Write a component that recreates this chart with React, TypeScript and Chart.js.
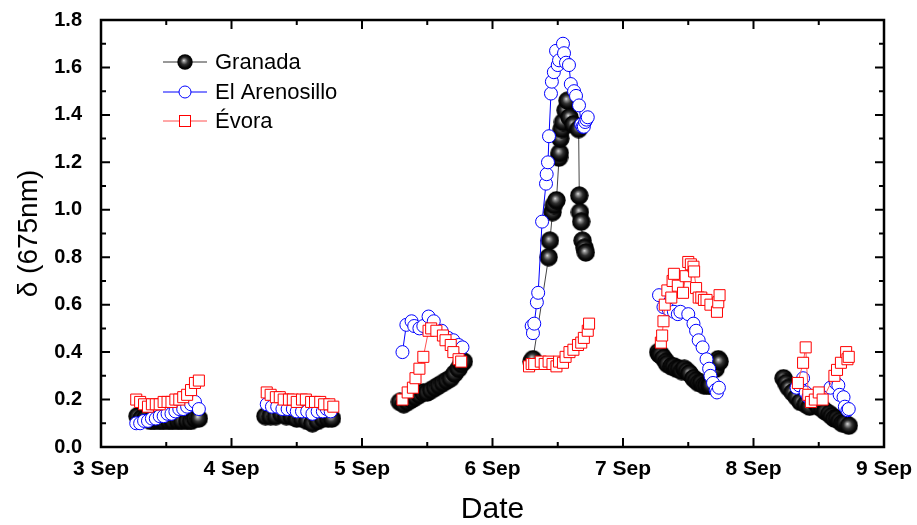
import React, { useEffect, useRef } from 'react';
import { Chart, registerables } from 'chart.js';

Chart.register(...registerables);

// ---------- tick definitions ----------
const xMajorDays = [3, 4, 5, 6, 7, 8, 9];
const xMinorDays = [3.5, 4.5, 5.5, 6.5, 7.5, 8.5];
const yMajorTicks = [0, 0.2, 0.4, 0.6, 0.8, 1.0, 1.2, 1.4, 1.6, 1.8];
const yMinorTicks = [0.1, 0.3, 0.5, 0.7, 0.9, 1.1, 1.3, 1.5, 1.7];

const seriesNames = ['Granada', 'El Arenosillo', 'Évora'];

// ---------- Granada ----------
const granadaTime = [
  3.28, 3.31, 3.34, 3.38, 3.41, 3.45, 3.48, 3.52, 3.55, 3.59, 3.62, 3.66, 3.69, 3.72, 3.75,
  4.26, 4.30, 4.34, 4.38, 4.42, 4.46, 4.50, 4.54, 4.58, 4.62, 4.66, 4.70, 4.74, 4.77,
  5.29, 5.32, 5.35, 5.38, 5.41, 5.44, 5.47, 5.50, 5.53, 5.56, 5.59, 5.62, 5.65, 5.68, 5.71, 5.74, 5.76, 5.78,
  6.30, 6.31, 6.43, 6.44, 6.46, 6.47, 6.49, 6.51, 6.515, 6.52, 6.53, 6.54, 6.56, 6.575, 6.59, 6.62, 6.66, 6.665, 6.67, 6.68, 6.69, 6.705, 6.715,
  7.27, 7.28, 7.29, 7.31, 7.33, 7.34, 7.37, 7.39, 7.41, 7.43, 7.45, 7.47, 7.49, 7.51, 7.54, 7.56, 7.58, 7.60, 7.62, 7.64, 7.66, 7.67, 7.71, 7.73, 7.74,
  8.23, 8.25, 8.27, 8.30, 8.33, 8.36, 8.40, 8.43, 8.47, 8.50, 8.53, 8.55, 8.58, 8.60, 8.62, 8.64, 8.66, 8.68, 8.70, 8.73,
];
const granadaValue = [
  0.13, 0.12, 0.12, 0.11, 0.11, 0.11, 0.11, 0.11, 0.11, 0.11, 0.11, 0.11, 0.11, 0.12, 0.12,
  0.13, 0.13, 0.13, 0.14, 0.13, 0.13, 0.12, 0.12, 0.11, 0.10, 0.11, 0.12, 0.12, 0.12,
  0.19, 0.18, 0.19, 0.20, 0.21, 0.22, 0.23, 0.23, 0.24, 0.25, 0.26, 0.27, 0.28, 0.29, 0.31, 0.33, 0.35, 0.36,
  0.36, 0.37, 0.80, 0.87, 0.99, 1.02, 1.04, 1.22, 1.24, 1.30, 1.34, 1.37, 1.42, 1.46, 1.39, 1.36, 1.34, 1.06, 0.99, 0.95, 0.87, 0.84, 0.82,
  0.40, 0.39, 0.39, 0.375, 0.36, 0.35, 0.34, 0.34, 0.33, 0.33, 0.32, 0.33, 0.32, 0.31, 0.29, 0.28, 0.27, 0.27, 0.26, 0.26, 0.26, 0.26, 0.33, 0.37, 0.36,
  0.29, 0.27, 0.25, 0.23, 0.21, 0.19, 0.18, 0.17, 0.19, 0.17, 0.16, 0.15, 0.14, 0.13, 0.12, 0.12, 0.11, 0.10, 0.10, 0.09,
];

// ---------- El Arenosillo ----------
const arenosilloTime = [
  3.27, 3.30, 3.33, 3.36, 3.39, 3.42, 3.45, 3.48, 3.51, 3.54, 3.57, 3.60, 3.63, 3.66, 3.69, 3.72, 3.75,
  4.27, 4.31, 4.35, 4.39, 4.43, 4.47, 4.50, 4.54, 4.58, 4.62, 4.66, 4.70, 4.73, 4.76,
  5.31, 5.34, 5.38, 5.40, 5.44, 5.47, 5.51, 5.55, 5.61, 5.66, 5.70, 5.74, 5.77,
  6.30, 6.31, 6.32, 6.34, 6.35, 6.38, 6.41, 6.415, 6.425, 6.433, 6.448, 6.455, 6.47, 6.487, 6.50, 6.51, 6.54, 6.548, 6.563, 6.586, 6.60, 6.625, 6.64, 6.663, 6.68, 6.69, 6.70, 6.71, 6.72, 6.73,
  7.276, 7.31, 7.35, 7.39, 7.42, 7.44, 7.50, 7.54, 7.56, 7.58, 7.61, 7.64, 7.66, 7.67, 7.69, 7.71, 7.72, 7.735,
  8.33, 8.35, 8.38, 8.40, 8.42, 8.44, 8.59, 8.63, 8.65, 8.66, 8.69, 8.70, 8.72, 8.73,
];
const arenosilloValue = [
  0.10, 0.10, 0.11, 0.11, 0.12, 0.12, 0.13, 0.13, 0.14, 0.14, 0.15, 0.16, 0.16, 0.17, 0.18, 0.19, 0.16,
  0.18, 0.17, 0.17, 0.16, 0.16, 0.16, 0.15, 0.15, 0.15, 0.14, 0.15, 0.15, 0.16, 0.15,
  0.40, 0.515, 0.53, 0.51, 0.50, 0.51, 0.55, 0.53, 0.49, 0.46, 0.45, 0.43, 0.42,
  0.51, 0.48, 0.52, 0.61, 0.65, 0.95, 1.11, 1.15, 1.20, 1.31, 1.49, 1.54, 1.58, 1.67, 1.61, 1.63, 1.70, 1.66, 1.62, 1.61, 1.53, 1.50, 1.48, 1.44, 1.36, 1.35, 1.35, 1.37, 1.38, 1.39,
  0.64, 0.59, 0.58, 0.57, 0.56, 0.57, 0.56, 0.52, 0.49, 0.45, 0.42, 0.37, 0.33, 0.30, 0.27, 0.24, 0.23, 0.25,
  0.25, 0.26, 0.29, 0.23, 0.21, 0.20, 0.25, 0.27, 0.26, 0.22, 0.21, 0.17, 0.155, 0.16,
];

// ---------- Évora ----------
const evoraTime = [
  3.27, 3.30, 3.33, 3.36, 3.39, 3.42, 3.45, 3.48, 3.51, 3.54, 3.57, 3.60, 3.63, 3.66, 3.69, 3.72, 3.75,
  4.27, 4.30, 4.34, 4.37, 4.40, 4.44, 4.47, 4.50, 4.54, 4.57, 4.61, 4.64, 4.68, 4.71, 4.75, 4.78,
  5.31, 5.35, 5.39, 5.41, 5.44, 5.47, 5.51, 5.53, 5.57, 5.62, 5.64, 5.68, 5.70, 5.74, 5.76,
  6.28, 6.30, 6.32, 6.37, 6.40, 6.43, 6.46, 6.49, 6.51, 6.54, 6.56, 6.59, 6.62, 6.655, 6.68, 6.70, 6.73, 6.74,
  7.29, 7.30, 7.31, 7.32, 7.34, 7.37, 7.38, 7.39, 7.42, 7.46, 7.48, 7.50, 7.52, 7.54, 7.545, 7.56, 7.58, 7.60, 7.62, 7.64, 7.67, 7.72, 7.73, 7.74,
  8.34, 8.38, 8.40, 8.42, 8.44, 8.47, 8.50, 8.53, 8.62, 8.64, 8.67, 8.71, 8.72, 8.73,
];
const evoraValue = [
  0.20, 0.19, 0.18, 0.17, 0.18, 0.18, 0.18, 0.19, 0.19, 0.19, 0.20, 0.20, 0.21, 0.22, 0.24, 0.27, 0.28,
  0.23, 0.22, 0.21, 0.21, 0.20, 0.20, 0.20, 0.19, 0.20, 0.20, 0.19, 0.19, 0.19, 0.18, 0.18, 0.17,
  0.20, 0.23, 0.25, 0.29, 0.33, 0.38, 0.49, 0.50, 0.49, 0.47, 0.45, 0.43, 0.40, 0.37, 0.36,
  0.34, 0.35, 0.35, 0.36, 0.35, 0.36, 0.35, 0.34, 0.36, 0.355, 0.38, 0.40, 0.41, 0.43, 0.44, 0.46, 0.49, 0.52,
  0.44, 0.47, 0.53, 0.60, 0.66, 0.63, 0.70, 0.73, 0.68, 0.65, 0.72, 0.78, 0.77, 0.76, 0.74, 0.67, 0.63, 0.63, 0.62, 0.62, 0.60, 0.57, 0.61, 0.64,
  0.27, 0.355, 0.42, 0.22, 0.19, 0.20, 0.23, 0.20, 0.30, 0.325, 0.355, 0.40, 0.37, 0.38,
];

// build point list, breaking the line between days
function toPoints(t: number[], v: number[]) {
  const out: { x: number; y: number | null }[] = [];
  for (let i = 0; i < t.length; i++) {
    if (i > 0 && t[i] - t[i - 1] > 0.3) out.push({ x: (t[i] + t[i - 1]) / 2, y: null });
    out.push({ x: t[i], y: v[i] });
  }
  return out;
}

function makeSphere(d: number): HTMLCanvasElement {
  const c = document.createElement('canvas');
  c.width = d;
  c.height = d;
  const ctx = c.getContext('2d')!;
  const r = d / 2;
  const g = ctx.createRadialGradient(r * 0.85, r * 0.8, 0, r, r, r);
  g.addColorStop(0, '#e8e8e8');
  g.addColorStop(0.15, '#9a9a9a');
  g.addColorStop(0.45, '#303030');
  g.addColorStop(0.75, '#080808');
  g.addColorStop(1, '#000000');
  ctx.fillStyle = g;
  ctx.beginPath();
  ctx.arc(r, r, r - 0.3, 0, Math.PI * 2);
  ctx.fill();
  return c;
}

export default function App() {
  const ref = useRef<HTMLCanvasElement | null>(null);

  useEffect(() => {
    if (!ref.current) return;
    const sphere = makeSphere(19);
    const legendSphere = makeSphere(16);

    const framePlugin = {
      id: 'frameTicks',
      afterDraw(chart: any) {
        const ctx = chart.ctx;
        const { left, right, top, bottom } = chart.chartArea;
        const xs = chart.scales.x;
        const ys = chart.scales.y;
        ctx.save();
        ctx.strokeStyle = '#000';
        ctx.lineWidth = 2;
        ctx.beginPath();
        const tick = (vals: number[], len: number) => {
          vals.forEach((v) => {
            const px = xs.getPixelForValue(v);
            ctx.moveTo(px, bottom);
            ctx.lineTo(px, bottom - len);
            ctx.moveTo(px, top);
            ctx.lineTo(px, top + len);
          });
        };
        const ytick = (vals: number[], len: number) => {
          vals.forEach((v) => {
            const py = ys.getPixelForValue(v);
            ctx.moveTo(left, py);
            ctx.lineTo(left + len, py);
            ctx.moveTo(right, py);
            ctx.lineTo(right - len, py);
          });
        };
        tick(xMajorDays, 9);
        tick(xMinorDays, 5);
        ytick(yMajorTicks, 9);
        ytick(yMinorTicks, 5);
        ctx.stroke();
        ctx.lineWidth = 2.5;
        ctx.strokeRect(left, top, right - left, bottom - top);

        // legend
        const rows = [
          { y: top + 42, color: '#333333', kind: 'sphere' },
          { y: top + 72, color: '#0000ff', kind: 'circle' },
          { y: top + 101, color: '#ff5050', kind: 'square' },
        ];
        const lx0 = left + 62;
        const lx1 = left + 106;
        const mx = left + 84;
        rows.forEach((r, i) => {
          ctx.lineWidth = 1;
          ctx.strokeStyle = r.color;
          ctx.beginPath();
          ctx.moveTo(lx0, r.y);
          ctx.lineTo(lx1, r.y);
          ctx.stroke();
          if (r.kind === 'sphere') {
            ctx.drawImage(legendSphere, mx - 8, r.y - 8);
          } else if (r.kind === 'circle') {
            ctx.fillStyle = '#fff';
            ctx.strokeStyle = '#0000ff';
            ctx.beginPath();
            ctx.arc(mx, r.y, 6, 0, Math.PI * 2);
            ctx.fill();
            ctx.stroke();
          } else {
            ctx.fillStyle = '#fff';
            ctx.strokeStyle = '#ff0000';
            ctx.fillRect(mx - 5.5, r.y - 5.5, 11, 11);
            ctx.strokeRect(mx - 5.5, r.y - 5.5, 11, 11);
          }
          ctx.fillStyle = '#000';
          ctx.font = '22px "Liberation Sans", Arial, sans-serif';
          ctx.textBaseline = 'middle';
          ctx.textAlign = 'left';
          ctx.fillText(seriesNames[i], left + 114, r.y + 1);
        });
        ctx.restore();
      },
    };

    const chart = new Chart(ref.current, {
      type: 'line',
      data: {
        datasets: [
          {
            label: seriesNames[0],
            data: toPoints(granadaTime, granadaValue),
            borderColor: '#444444',
            borderWidth: 1,
            pointStyle: sphere as any,
            pointRadius: 9.5,
            spanGaps: false,
            order: 2,
          },
          {
            label: seriesNames[1],
            data: toPoints(arenosilloTime, arenosilloValue),
            borderColor: '#0000ff',
            borderWidth: 1,
            pointStyle: 'circle',
            pointRadius: 6.5,
            pointBorderWidth: 1,
            pointBorderColor: '#0000ff',
            pointBackgroundColor: '#ffffff',
            spanGaps: false,
            order: 1,
          },
          {
            label: seriesNames[2],
            data: toPoints(evoraTime, evoraValue),
            borderColor: '#ff5050',
            borderWidth: 1,
            pointStyle: 'rect',
            pointRadius: 7.8,
            pointBorderWidth: 1,
            pointBorderColor: '#ff0000',
            pointBackgroundColor: '#ffffff',
            spanGaps: false,
            order: 0,
          },
        ],
      },
      options: {
        animation: false,
        responsive: false,
        devicePixelRatio: 1,
        layout: { padding: { top: 20, right: 33, left: 0, bottom: 0 } },
        plugins: { legend: { display: false }, tooltip: { enabled: false } },
        elements: { line: { tension: 0 } },
        scales: {
          x: {
            type: 'linear',
            min: 3,
            max: 9,
            afterFit: (s: any) => {
              s.height = 78;
              s.paddingLeft = 0;
              s.paddingRight = 0;
            },
            afterBuildTicks: (s: any) => { s.ticks = xMajorDays.map((v) => ({ value: v })); },
            grid: { display: false, drawTicks: false },
            border: { display: false },
            ticks: {
              color: '#000',
              padding: 10,
              maxRotation: 0,
              font: { family: '"Liberation Sans", Arial, sans-serif', size: 21, weight: 'bold' },
              callback: (v: any) => `${v} Sep`,
            },
            title: {
              display: true,
              text: 'Date',
              color: '#000',
              font: { family: '"Liberation Sans", Arial, sans-serif', size: 30, lineHeight: 1 },
              padding: { top: 0, bottom: 0 },
            },
          },
          y: {
            type: 'linear',
            min: 0,
            max: 1.8,
            afterFit: (s: any) => {
              s.width = 101;
              s.paddingTop = 0;
              s.paddingBottom = 0;
            },
            afterBuildTicks: (s: any) => { s.ticks = yMajorTicks.map((v) => ({ value: v })); },
            grid: { display: false, drawTicks: false },
            border: { display: false },
            ticks: {
              color: '#000',
              padding: 19,
              font: { family: '"Liberation Sans", Arial, sans-serif', size: 20, weight: 'bold' },
              callback: (v: any) => Number(v).toFixed(1),
            },
            title: {
              display: true,
              text: 'δ (675nm)',
              color: '#000',
              font: { family: '"Liberation Sans", Arial, sans-serif', size: 28, lineHeight: 1.2 },
              padding: { top: 12, bottom: 0 },
            },
          },
        },
      },
      plugins: [framePlugin],
    });

    return () => chart.destroy();
  }, []);

  return (
    <div style={{ position: 'absolute', left: 0, top: 0, width: 917, height: 525, background: '#fff' }}>
      <canvas ref={ref} width={917} height={525} />
    </div>
  );
}
